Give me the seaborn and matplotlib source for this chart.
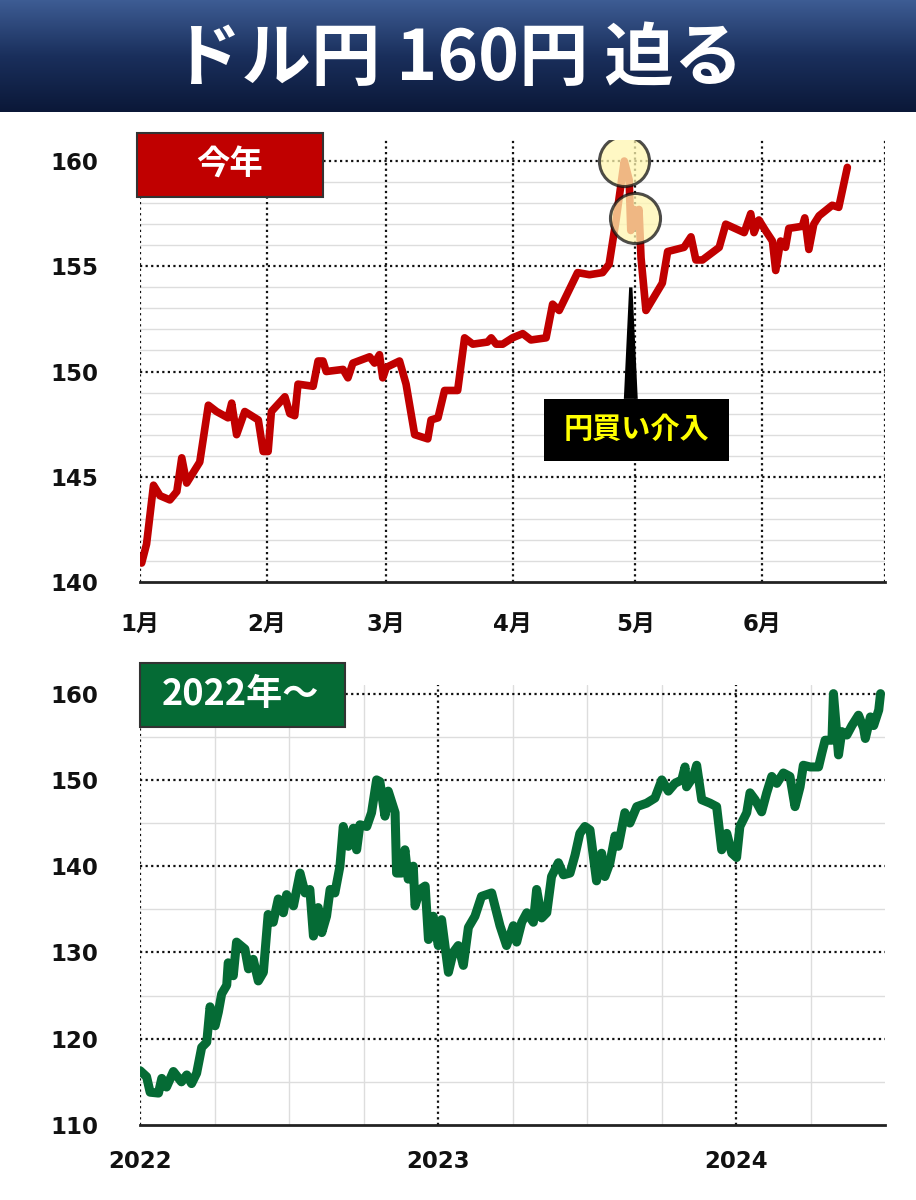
import numpy as np
import pandas as pd
import matplotlib
matplotlib.use("Agg")
import matplotlib.pyplot as plt
import seaborn as sns
from matplotlib.patches import Rectangle, Polygon
from matplotlib.colors import LinearSegmentedColormap

sns.set_theme(style="white")
plt.rcParams['font.family'] = ['Noto Sans CJK JP', 'DejaVu Sans']

# ---- data: this year (day of year, USD/JPY) ----
ytd_day = [0.4, 1.6, 3.3, 4.9, 7.3, 9.0, 10.2, 11.4, 14.6, 16.7, 18.7, 21.5, 22.4, 23.6, 25.6, 28.9,
           30.1, 31.3, 32.1, 35.4, 36.6, 37.8, 38.6, 42.3, 43.5, 44.7, 45.5, 49.6, 50.8, 52.0, 56.1,
           57.3, 58.5, 59.3, 60.2, 63.4, 65.0, 67.1, 70.3, 71.1, 72.8, 74.4, 77.6, 79.3, 81.3, 84.9,
           85.8, 87.0, 88.6, 91.0, 93.5, 95.5, 99.2, 100.8, 102.4, 106.9, 109.8, 113.0, 114.6, 116.3,
           118.3, 119.5, 119.9, 120.7, 121.1, 121.9, 122.4, 123.6, 127.6, 128.9, 130.9, 132.9, 134.6,
           135.8, 137.4, 141.5, 143.1, 147.6, 149.2, 150.0, 151.2, 152.8, 154.5, 155.3, 156.5, 157.7,
           158.5, 161.8, 162.4, 163.4, 164.6, 165.9, 169.1, 170.7, 172.8]
ytd_val = [140.9, 141.8, 144.6, 144.1, 143.9, 144.3, 145.9, 144.7, 145.7, 148.4, 148.1, 147.8, 148.5,
           147.0, 148.1, 147.7, 146.2, 146.2, 148.1, 148.8, 148.0, 147.9, 149.4, 149.3, 150.5, 150.5,
           150.0, 150.1, 149.7, 150.4, 150.7, 150.4, 150.8, 149.7, 150.2, 150.5, 149.4, 147.0, 146.8,
           147.7, 147.8, 149.1, 149.1, 151.6, 151.3, 151.4, 151.6, 151.3, 151.3, 151.6, 151.8, 151.5,
           151.6, 153.2, 152.9, 154.7, 154.6, 154.7, 155.1, 157.2, 160.0, 159.1, 156.7, 157.7, 156.9,
           157.7, 155.4, 152.9, 154.2, 155.7, 155.8, 155.9, 156.4, 155.3, 155.3, 155.9, 157.0, 156.6,
           157.5, 156.6, 157.2, 156.7, 156.2, 154.8, 156.2, 155.9, 156.8, 156.9, 157.3, 155.8, 157.0,
           157.4, 157.9, 157.8, 159.7]
month_ticks = [0, 31, 60, 91, 121, 152]
month_labels = ["1月", "2月", "3月", "4月", "5月", "6月"]
intervention_day = [118.3, 121.0]
intervention_val = [160.0, 157.3]

# ---- data: since 2022 (years since 2022-01-01, USD/JPY) ----
long_t = [0, .022, .034, .062, .073, .089, .112, .139, .157, .173, .190, .207, .224, .235, .252, .263,
          .274, .291, .296, .313, .324, .352, .364, .380, .397, .414, .430, .447, .464, .481, .492,
          .515, .537, .554, .570, .582, .598, .610, .626, .638, .654, .671, .682, .699, .716, .727,
          .738, .761, .777, .794, .805, .822, .833, .856, .861, .878, .889, .900, .917, .923, .940,
          .957, .968, .984, 1.001, 1.012, 1.035, 1.051, 1.068, 1.085, 1.102, 1.124, 1.146, 1.180,
          1.208, 1.230, 1.253, 1.264, 1.281, 1.298, 1.320, 1.331, 1.348, 1.365, 1.381, 1.404, 1.421,
          1.443, 1.460, 1.476, 1.493, 1.510, 1.532, 1.549, 1.560, 1.577, 1.594, 1.605, 1.627, 1.644,
          1.667, 1.700, 1.728, 1.751, 1.773, 1.795, 1.818, 1.829, 1.834, 1.857, 1.868, 1.885, 1.913,
          1.935, 1.952, 1.969, 1.986, 2.002, 2.013, 2.036, 2.047, 2.064, 2.086, 2.103, 2.120, 2.137,
          2.159, 2.181, 2.198, 2.215, 2.226, 2.249, 2.277, 2.288, 2.299, 2.322, 2.327, 2.336, 2.344,
          2.355, 2.372, 2.389, 2.411, 2.428, 2.434, 2.451, 2.462, 2.479, 2.485]
long_val = [116.3, 115.6, 113.8, 113.7, 115.4, 114.4, 116.2, 115.0, 115.8, 114.8, 116.0, 119.0, 119.6,
            123.7, 121.5, 123.1, 125.2, 126.2, 128.8, 127.3, 131.2, 130.4, 128.1, 129.2, 126.7, 127.7,
            134.4, 133.5, 136.2, 134.6, 136.7, 135.4, 139.2, 136.9, 137.3, 131.9, 135.2, 132.3, 134.2,
            137.3, 136.9, 140.0, 144.6, 142.3, 144.4, 141.9, 144.8, 144.6, 146.2, 150.0, 149.8, 145.8,
            148.7, 146.2, 139.2, 139.2, 141.9, 138.5, 140.0, 135.4, 137.3, 137.7, 131.5, 134.2, 130.8,
            133.8, 127.7, 130.0, 130.8, 128.5, 132.9, 134.2, 136.5, 136.9, 133.1, 130.8, 133.1, 131.2,
            133.5, 134.6, 133.5, 137.3, 134.0, 134.6, 138.8, 140.4, 139.0, 139.2, 141.3, 143.8, 144.6,
            144.2, 138.3, 141.5, 138.8, 140.4, 143.5, 142.3, 146.2, 145.0, 146.9, 147.3, 147.9, 150.0,
            148.7, 149.6, 150.0, 151.5, 149.2, 150.4, 151.7, 147.7, 147.3, 146.9, 141.9, 143.8, 141.5,
            141.0, 144.6, 146.2, 148.5, 147.7, 146.3, 148.5, 150.4, 149.6, 150.8, 150.4, 146.9, 149.2,
            151.7, 151.5, 151.5, 153.1, 154.6, 154.6, 160.0, 156.2, 152.9, 155.6, 155.2, 156.3, 157.5,
            156.0, 154.8, 157.3, 156.3, 158.1, 160.0]
year_ticks = [0, 1, 2]
year_labels = ["2022", "2023", "2024"]

title_text = "ドル円 160円 迫る"
label_top = "今年"
label_bottom = "2022年～"
callout_text = "円買い介入"

RED = "#C00000"
GREEN = "#056B35"
TICKFONT = ['DejaVu Sans', 'Noto Sans CJK JP']

fig = plt.figure(figsize=(9.16, 12), dpi=100)

# title banner
bax = fig.add_axes([0, 1 - 112 / 1200, 1, 112 / 1200])
grad = np.linspace(0, 1, 100).reshape(-1, 1)
cmap = LinearSegmentedColormap.from_list("b", ["#3D5C93", "#1A2F5C", "#0B1838"])
bax.imshow(grad, aspect="auto", cmap=cmap, extent=[0, 1, 0, 1])
bax.set_axis_off()
bax.text(0.5, 0.47, title_text, color="white", fontsize=50, fontweight="bold",
         ha="center", va="center", transform=bax.transAxes)

def style_axes(ax):
    for s in ["top", "right", "left"]:
        ax.spines[s].set_visible(False)
    ax.spines["bottom"].set_color("#222222")
    ax.spines["bottom"].set_linewidth(2)
    ax.tick_params(axis="both", length=0, labelsize=16.5)
    for lab in ax.get_xticklabels() + ax.get_yticklabels():
        lab.set_fontweight("bold")
        lab.set_color("#111111")
        lab.set_family(TICKFONT)

# ---- top chart ----
ax1 = fig.add_axes([140 / 916, 1 - 582 / 1200, 745 / 916, 442 / 1200])
for v in range(141, 161):
    if v % 5:
        ax1.axhline(v, color="#dddddd", lw=1, zorder=0)
for v in [145, 150, 155, 160]:
    ax1.axhline(v, color="#111111", lw=1.6, ls=(0, (1, 1.5)), zorder=1)
for d in month_ticks + [182]:
    ax1.axvline(d, color="#111111", lw=1.6, ls=(0, (1, 1.5)), zorder=1)
df1 = pd.DataFrame({"day": ytd_day, "val": ytd_val})
sns.lineplot(data=df1, x="day", y="val", ax=ax1, color=RED, lw=5.5, sort=False, zorder=3)
ax1.set_xlim(0, 182)
ax1.set_ylim(140, 161)
ax1.set_xticks(month_ticks)
ax1.set_xticklabels(month_labels)
ax1.set_yticks([140, 145, 150, 155, 160])
ax1.set_xlabel("")
ax1.set_ylabel("")
ax1.tick_params(axis="x", pad=22)
ax1.tick_params(axis="y", pad=30)
style_axes(ax1)
for x, y in zip(intervention_day, intervention_val):
    ax1.scatter([x], [y], s=1300, facecolor="#FFF6B0", edgecolor="#111111", lw=2.2,
                alpha=0.75, zorder=4)

# callout
ax1.add_patch(Polygon([[119.5, 154.0], [120.3, 154.0], [121.6, 148.7], [118.2, 148.7]],
                      closed=True, facecolor="black", edgecolor="none", zorder=5))
ax1.add_patch(Rectangle((98.8, 145.76), 45.1, 2.95, facecolor="black", edgecolor="none", zorder=5))
ax1.text(121.3, 147.25, callout_text, color="#FFFF00", fontsize=21, fontweight="bold",
         ha="center", va="center", zorder=6)

# label box top
fig.patches.append(Rectangle((137 / 916, 1 - 197 / 1200), 186 / 916, 64 / 1200,
                             transform=fig.transFigure, facecolor=RED, edgecolor="#333333", lw=1.5, zorder=10))
fig.text(230 / 916, 1 - 165 / 1200, label_top, color="white", fontsize=24, fontweight="bold",
         ha="center", va="center", zorder=11)

# ---- bottom chart ----
ax2 = fig.add_axes([140 / 916, 1 - 1125 / 1200, 745 / 916, 440 / 1200])
for v in [115, 125, 135, 145, 155]:
    ax2.axhline(v, color="#dddddd", lw=1, zorder=0)
for v in [120, 130, 140, 150, 160]:
    ax2.axhline(v, color="#111111", lw=1.6, ls=(0, (1, 1.5)), zorder=1)
for q in np.arange(0.25, 2.5, 0.25):
    if abs(q - round(q)) > 1e-6:
        ax2.axvline(q, color="#dddddd", lw=1, zorder=0)
for yv in [0, 1, 2]:
    ax2.axvline(yv, color="#111111", lw=1.6, ls=(0, (1, 1.5)), zorder=1)
df2 = pd.DataFrame({"t": long_t, "val": long_val})
sns.lineplot(data=df2, x="t", y="val", ax=ax2, color=GREEN, lw=6.5, sort=False, zorder=3)
ax2.set_xlim(0, 2.5)
ax2.set_ylim(110, 161)
ax2.set_xticks(year_ticks)
ax2.set_xticklabels(year_labels)
ax2.set_yticks([110, 120, 130, 140, 150, 160])
ax2.set_xlabel("")
ax2.set_ylabel("")
ax2.tick_params(axis="x", pad=18)
ax2.tick_params(axis="y", pad=30)
style_axes(ax2)

fig.patches.append(Rectangle((140 / 916, 1 - 727 / 1200), 205 / 916, 64 / 1200,
                             transform=fig.transFigure, facecolor=GREEN, edgecolor="#333333", lw=1.5, zorder=10))
fig.text(240 / 916, 1 - 695 / 1200, label_bottom, color="white", fontsize=26, fontweight="bold",
         ha="center", va="center", zorder=11)

fig.savefig("out.png", dpi=100, facecolor="white")
